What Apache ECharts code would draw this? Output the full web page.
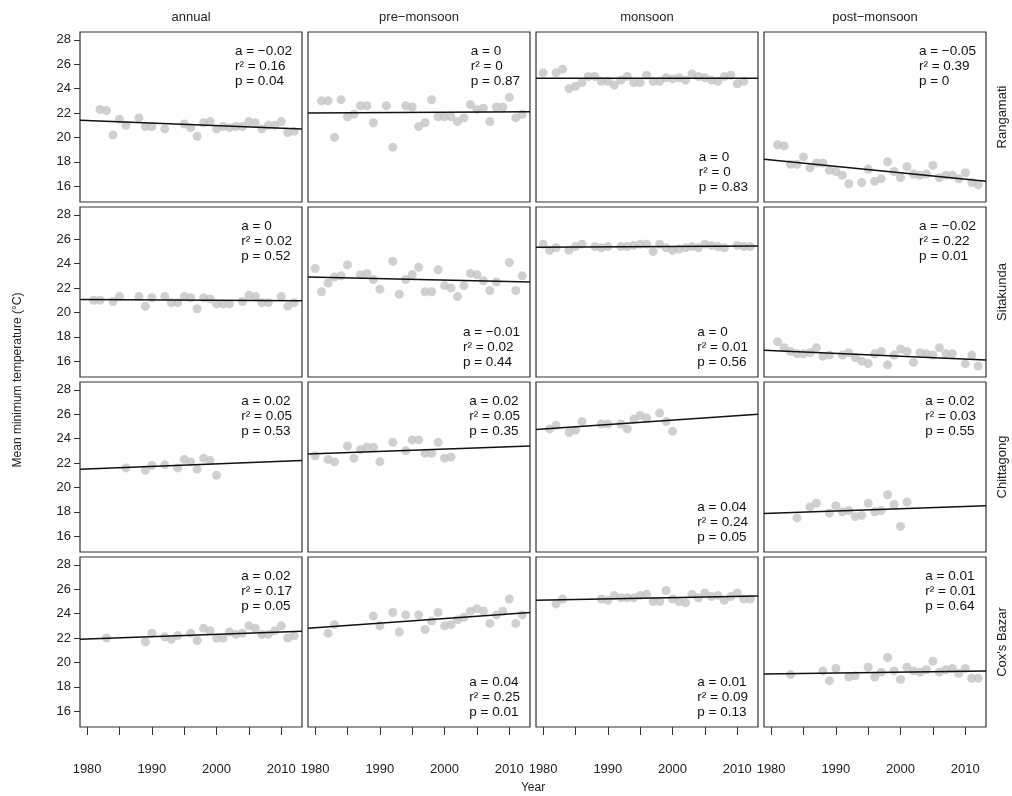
<!DOCTYPE html>
<html><head><meta charset="utf-8">
<script src="https://cdn.jsdelivr.net/npm/echarts@6/dist/echarts.min.js"></script>
<style>html,body{margin:0;background:#fff}#c{width:1012px;height:796px}</style>
</head><body><div id="c"></div>
<script>
const columns = ['annual','pre\u2212monsoon','monsoon','post\u2212monsoon'];
const stations = ['Rangamati','Sitakunda','Chittagong',"Cox's Bazar"];
const yTicks = [16,18,20,22,24,26,28];
const xTicks = [1980,1985,1990,1995,2000,2005,2010];
const xLabels = [1980,1990,2000,2010];

// Rangamati
const rangAnnual = [[1982,22.3],[1983,22.2],[1984,20.2],[1985,21.5],[1986,21.0],[1988,21.6],[1989,20.9],[1990,20.9],[1992,20.7],[1995,21.1],[1996,20.8],[1997,20.1],[1998,21.2],[1999,21.3],[2000,20.7],[2001,20.9],[2002,20.8],[2003,20.9],[2004,20.9],[2005,21.3],[2006,21.2],[2007,20.7],[2008,21.0],[2009,21.0],[2010,21.3],[2011,20.4],[2012,20.5]];
const rangPre = [[1981,23.0],[1982,23.0],[1983,20.0],[1984,23.1],[1985,21.7],[1986,21.9],[1987,22.6],[1988,22.6],[1989,21.2],[1991,22.6],[1992,19.2],[1994,22.6],[1995,22.5],[1996,20.9],[1997,21.2],[1998,23.1],[1999,21.7],[2000,21.7],[2001,21.7],[2002,21.3],[2003,21.6],[2004,22.7],[2005,22.3],[2006,22.4],[2007,21.3],[2008,22.5],[2009,22.5],[2010,23.3],[2011,21.6],[2012,21.9]];
const rangMon = [[1980,25.3],[1982,25.3],[1983,25.6],[1984,24.0],[1985,24.2],[1986,24.5],[1987,25.0],[1988,25.0],[1989,24.6],[1990,24.6],[1991,24.3],[1992,24.7],[1993,25.0],[1994,24.5],[1995,24.5],[1996,25.1],[1997,24.6],[1998,24.6],[1999,24.9],[2000,24.8],[2001,24.9],[2002,24.7],[2003,25.2],[2004,25.0],[2005,24.9],[2006,24.7],[2007,24.6],[2008,25.0],[2009,25.1],[2010,24.4],[2011,24.6]];
const rangPost = [[1981,19.4],[1982,19.3],[1983,17.8],[1984,17.8],[1985,18.4],[1986,17.5],[1987,17.9],[1988,17.9],[1989,17.3],[1990,17.2],[1991,16.9],[1992,16.2],[1994,16.3],[1995,17.4],[1996,16.4],[1997,16.6],[1998,18.0],[1999,17.2],[2000,16.7],[2001,17.6],[2002,17.0],[2003,16.9],[2004,17.0],[2005,17.7],[2006,16.7],[2007,16.9],[2008,16.9],[2009,16.6],[2010,17.1],[2011,16.3],[2012,16.1]];
// Sitakunda
const sitaAnnual = [[1981,21.0],[1982,21.0],[1984,20.9],[1985,21.3],[1988,21.3],[1989,20.5],[1990,21.2],[1992,21.3],[1993,20.8],[1994,20.8],[1995,21.3],[1996,21.2],[1997,20.3],[1998,21.2],[1999,21.1],[2000,20.7],[2001,20.7],[2002,20.7],[2004,20.9],[2005,21.4],[2006,21.3],[2007,20.8],[2008,20.8],[2010,21.3],[2011,20.5],[2012,20.8]];
const sitaPre = [[1980,23.6],[1981,21.7],[1982,22.4],[1983,22.9],[1984,23.0],[1985,23.9],[1987,23.1],[1988,23.2],[1989,22.7],[1990,21.9],[1992,24.2],[1993,21.5],[1994,22.7],[1995,23.1],[1996,23.7],[1997,21.7],[1998,21.7],[1999,23.5],[2000,22.2],[2001,22.0],[2002,21.3],[2003,22.2],[2004,23.2],[2005,23.1],[2006,22.6],[2007,21.8],[2008,22.5],[2010,24.1],[2011,21.8],[2012,23.0]];
const sitaMon = [[1980,25.6],[1981,25.1],[1982,25.3],[1984,25.1],[1985,25.4],[1986,25.6],[1988,25.4],[1989,25.3],[1990,25.4],[1992,25.4],[1993,25.4],[1994,25.5],[1995,25.6],[1996,25.6],[1997,25.0],[1998,25.6],[1999,25.3],[2000,25.1],[2001,25.2],[2002,25.3],[2003,25.4],[2004,25.3],[2005,25.6],[2006,25.5],[2007,25.4],[2008,25.3],[2010,25.5],[2011,25.4],[2012,25.4]];
const sitaPost = [[1981,17.6],[1982,17.1],[1983,16.8],[1984,16.6],[1985,16.6],[1986,16.7],[1987,17.1],[1988,16.4],[1989,16.5],[1991,16.5],[1992,16.7],[1993,16.3],[1994,16.0],[1995,15.8],[1996,16.6],[1997,16.8],[1998,15.7],[1999,16.5],[2000,17.0],[2001,16.8],[2002,15.9],[2003,16.7],[2004,16.6],[2005,16.5],[2006,17.1],[2007,16.6],[2008,16.6],[2010,15.8],[2011,16.5],[2012,15.6]];
// Chittagong
const chitAnnual = [[1986,21.6],[1989,21.4],[1990,21.8],[1992,21.85],[1994,21.6],[1995,22.3],[1996,22.1],[1997,21.5],[1998,22.4],[1999,22.2],[2000,21.0]];
const chitPre = [[1980,22.6],[1982,22.3],[1983,22.1],[1985,23.4],[1986,22.4],[1987,23.1],[1988,23.3],[1989,23.3],[1990,22.1],[1992,23.7],[1994,23.0],[1995,23.9],[1996,23.9],[1997,22.8],[1998,22.8],[1999,23.7],[2000,22.4],[2001,22.5]];
const chitMon = [[1981,24.8],[1982,25.1],[1984,24.5],[1985,24.7],[1986,25.4],[1989,25.2],[1990,25.2],[1992,25.2],[1993,24.8],[1994,25.6],[1995,25.9],[1996,25.7],[1998,26.1],[1999,25.4],[2000,24.6]];
const chitPost = [[1984,17.5],[1986,18.4],[1987,18.7],[1989,17.9],[1990,18.5],[1991,18.0],[1992,18.1],[1993,17.6],[1994,17.7],[1995,18.7],[1996,18.0],[1997,18.1],[1998,19.4],[1999,18.6],[2000,16.8],[2001,18.8]];
// Cox's Bazar
const coxAnnual = [[1983,22.0],[1989,21.7],[1990,22.4],[1992,22.1],[1993,21.9],[1994,22.2],[1996,22.4],[1997,21.8],[1998,22.8],[1999,22.6],[2000,22.0],[2001,22.0],[2002,22.5],[2003,22.3],[2004,22.4],[2005,23.0],[2006,22.8],[2007,22.3],[2008,22.3],[2009,22.6],[2010,23.0],[2011,22.0],[2012,22.2]];
const coxPre = [[1982,22.4],[1983,23.1],[1989,23.8],[1990,23.0],[1992,24.1],[1993,22.5],[1994,23.9],[1996,23.9],[1997,22.7],[1998,23.4],[1999,24.1],[2000,23.0],[2001,23.1],[2002,23.5],[2003,23.7],[2004,24.2],[2005,24.4],[2006,24.2],[2007,23.2],[2008,23.9],[2009,24.2],[2010,25.2],[2011,23.2],[2012,23.9]];
const coxMon = [[1982,24.8],[1983,25.2],[1989,25.2],[1990,25.1],[1991,25.5],[1992,25.3],[1993,25.3],[1994,25.3],[1995,25.5],[1996,25.6],[1997,25.0],[1998,25.0],[1999,25.9],[2000,25.2],[2001,25.0],[2002,24.9],[2003,25.6],[2004,25.3],[2005,25.7],[2006,25.4],[2007,25.5],[2008,25.1],[2009,25.4],[2010,25.7],[2011,25.2],[2012,25.2]];
const coxPost = [[1983,19.0],[1988,19.3],[1989,18.5],[1990,19.5],[1992,18.8],[1993,18.9],[1995,19.6],[1996,18.8],[1997,19.2],[1998,20.4],[1999,19.3],[2000,18.6],[2001,19.6],[2002,19.3],[2003,19.2],[2004,19.4],[2005,20.1],[2006,19.2],[2007,19.4],[2008,19.5],[2009,19.1],[2010,19.5],[2011,18.7],[2012,18.7]];

// trend line values at the panel's left and right edges
const trendStart = [[21.4,22.0,24.85,18.2],[21.05,22.9,25.35,16.9],[21.5,22.75,24.75,17.85],[21.9,22.8,25.1,19.05]];
const trendEnd   = [[20.7,22.1,24.85,16.4],[20.95,22.5,25.45,16.1],[22.2,23.4,26.0,18.5],[22.55,24.1,25.45,19.3]];
// annotations: a, r2, p
const statsA  = [['\u22120.02','0','0','\u22120.05'],['0','\u22120.01','0','\u22120.02'],['0.02','0.02','0.04','0.02'],['0.02','0.04','0.01','0.01']];
const statsR2 = [['0.16','0','0','0.39'],['0.02','0.02','0.01','0.22'],['0.05','0.05','0.24','0.03'],['0.17','0.25','0.09','0.01']];
const statsP  = [['0.04','0.87','0.83','0'],['0.52','0.44','0.56','0.01'],['0.53','0.35','0.05','0.55'],['0.05','0.01','0.13','0.64']];
const statsBottom = [[0,0,1,0],[0,1,1,0],[0,0,1,0],[0,1,1,0]];

const points = [[rangAnnual,rangPre,rangMon,rangPost],[sitaAnnual,sitaPre,sitaMon,sitaPost],[chitAnnual,chitPre,chitMon,chitPost],[coxAnnual,coxPre,coxMon,coxPost]];

const XMIN=1978.9, XMAX=2013.2, YMIN=14.7, YMAX=28.65;
const L=[80,308,536,764], T=[32,207,382,557], W=222, H=170;
const font = 'Liberation Sans, Arial, sans-serif';
const grid=[],xAxis=[],yAxis=[],series=[],graphic=[];
for(let r=0;r<4;r++)for(let c=0;c<4;c++){
  const i=r*4+c;
  grid.push({left:L[c],top:T[r],width:W,height:H,show:true,borderColor:'#333',borderWidth:1.2,backgroundColor:'#fff'});
  const bottom=r===3, left=c===0;
  xAxis.push({type:'value',gridIndex:i,min:XMIN,max:XMAX,position:'bottom',
    axisLine:{show:false},splitLine:{show:false},
    axisTick:{show:bottom,customValues:xTicks,length:8,lineStyle:{color:'#333'}},
    axisLabel:{show:bottom,customValues:xLabels,formatter:v=>String(v),color:'#222',fontSize:13,fontFamily:font,margin:36}});
  yAxis.push({type:'value',gridIndex:i,min:YMIN,max:YMAX,
    axisLine:{show:false},splitLine:{show:false},
    axisTick:{show:left,customValues:yTicks,length:6,lineStyle:{color:'#333'}},
    axisLabel:{show:left,customValues:yTicks,color:'#222',fontSize:13,fontFamily:font,margin:9}});
  series.push({type:'scatter',xAxisIndex:i,yAxisIndex:i,data:points[r][c],symbolSize:9,itemStyle:{color:'#c4c4c4'},z:2});
  series.push({type:'line',xAxisIndex:i,yAxisIndex:i,data:[[XMIN,trendStart[r][c]],[XMAX,trendEnd[r][c]]],symbol:'none',lineStyle:{color:'#111',width:1.5},z:3,silent:true});
  const txt = 'a = '+statsA[r][c]+'\nr\u00b2 = '+statsR2[r][c]+'\np = '+statsP[r][c];
  const b=statsBottom[r][c];
  graphic.push({type:'text',right:1012-(L[c]+W-10),top:b?T[r]+H-52:T[r]+12,
    style:{text:txt,fill:'#111',font:'13.5px '+font,lineHeight:15,align:'left'}});
}
columns.forEach((t,c)=>graphic.push({type:'text',x:L[c]+W/2,y:17,style:{text:t,fill:'#222',font:'13px '+font,align:'center',verticalAlign:'middle'}}));
stations.forEach((t,r)=>graphic.push({type:'text',x:1002,y:T[r]+H/2,rotation:Math.PI/2,style:{text:t,fill:'#222',font:'13px '+font,align:'center',verticalAlign:'middle'}}));
graphic.push({type:'text',x:18,y:380,rotation:Math.PI/2,style:{text:'Mean minimum temperature (\u00b0C)',fill:'#222',font:'12px '+font,align:'center',verticalAlign:'middle'}});
graphic.push({type:'text',x:533,y:788,style:{text:'Year',fill:'#222',font:'12px '+font,align:'center',verticalAlign:'middle'}});

const chart=echarts.init(document.getElementById('c'));
chart.setOption({animation:false,grid,xAxis,yAxis,series,graphic});
</script></body></html>
